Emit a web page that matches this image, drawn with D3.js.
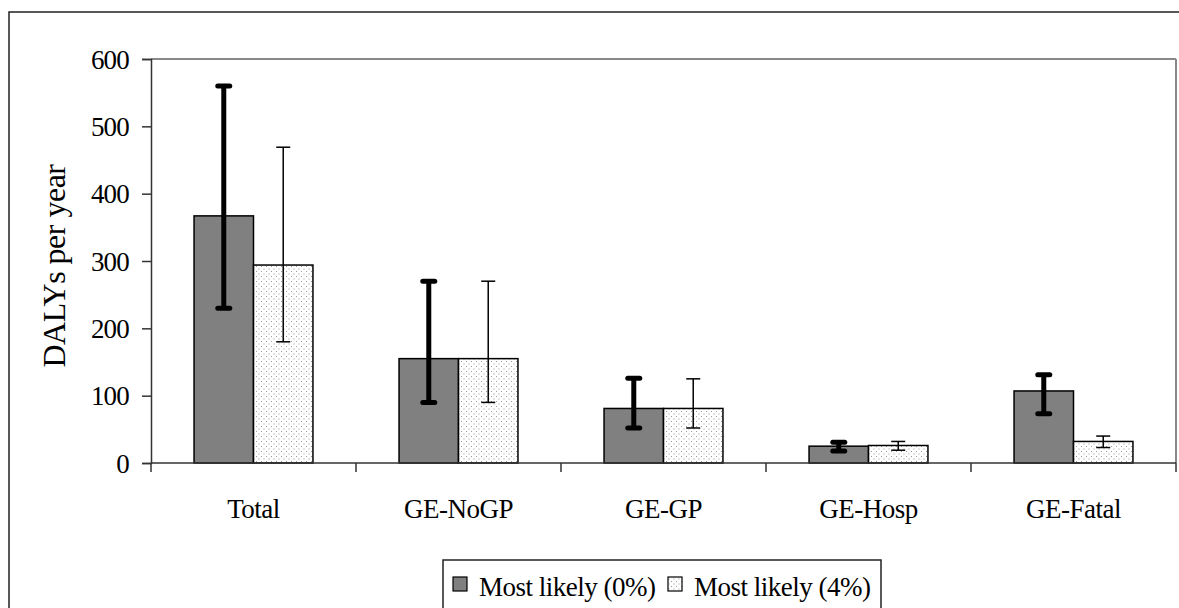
<!DOCTYPE html>
<html>
<head>
<meta charset="utf-8">
<script src="https://cdn.jsdelivr.net/npm/d3@7"></script>
<style>
  body { margin: 0; background: #fff; }
  svg { display: block; }
  text { font-family: "Liberation Serif", "Times New Roman", serif; fill: #000; }
</style>
</head>
<body>
<div id="chart"></div>
<script>
// data
var categories = ["Total", "GE-NoGP", "GE-GP", "GE-Hosp", "GE-Fatal"];
var seriesNames = ["Most likely (0%)", "Most likely (4%)"];
var values0 = [367, 155, 81, 25, 107];
var low0 = [230, 90, 52, 18, 73];
var high0 = [560, 270, 126, 31, 131];
var values4 = [294, 155, 81, 26, 32];
var low4 = [180, 90, 52, 19, 23];
var high4 = [469, 270, 125, 32, 40];
var yTicks = [0, 100, 200, 300, 400, 500, 600];

var W = 1179, H = 608;
var mLeft = 151, mRight = 1176, mTop = 59, mBottom = 463;

var svg = d3.select("#chart").append("svg")
    .attr("width", W)
    .attr("height", H);

// dotted fill for the 4% bars
var defs = svg.append("defs");
var pat = defs.append("pattern")
    .attr("id", "dots")
    .attr("patternUnits", "userSpaceOnUse")
    .attr("width", 5)
    .attr("height", 5);
pat.append("rect").attr("width", 5).attr("height", 5).attr("fill", "#fff");
pat.append("rect").attr("x", 1).attr("y", 1).attr("width", 1).attr("height", 1).attr("fill", "#999");
pat.append("rect").attr("x", 3.5).attr("y", 3.5).attr("width", 1).attr("height", 1).attr("fill", "#999");

// outer chart border (cut off at right/bottom)
svg.append("rect")
    .attr("x", 9).attr("y", 12)
    .attr("width", 1300).attr("height", 800)
    .attr("fill", "none")
    .attr("stroke", "#222")
    .attr("stroke-width", 1.5);

var x = d3.scaleBand().domain(categories).range([mLeft, mRight]);
var y = d3.scaleLinear().domain([0, 600]).range([mBottom, mTop]);
var bw = x.bandwidth() * 0.29;

// plot area border
svg.append("line").attr("x1", mLeft).attr("x2", mRight).attr("y1", mTop).attr("y2", mTop)
    .attr("stroke", "#888").attr("stroke-width", 2);
svg.append("line").attr("x1", mRight).attr("x2", mRight).attr("y1", mTop).attr("y2", mBottom)
    .attr("stroke", "#888").attr("stroke-width", 2);

var rows = categories.map(function (c, i) {
    return {
        cat: c,
        s: [
            { v: values0[i], lo: low0[i], hi: high0[i], k: 0 },
            { v: values4[i], lo: low4[i], hi: high4[i], k: 1 }
        ]
    };
});

var g = svg.selectAll("g.cat").data(rows).enter().append("g").attr("class", "cat");

function barX(d, k) {
    return x(d.cat) + x.bandwidth() / 2 - bw + k * bw;
}

g.each(function (d) {
    var gg = d3.select(this);
    d.s.forEach(function (s) {
        gg.append("rect")
            .attr("x", barX(d, s.k))
            .attr("y", y(s.v))
            .attr("width", bw)
            .attr("height", y(0) - y(s.v))
            .attr("fill", s.k === 0 ? "#808080" : "url(#dots)")
            .attr("stroke", "#000")
            .attr("stroke-width", 1.5);
    });
});

// axes
var yAxis = d3.axisLeft(y).tickValues(yTicks).tickSize(9).tickPadding(13);
var ya = svg.append("g").attr("transform", "translate(" + mLeft + ",0)").call(yAxis);
ya.select(".domain").attr("stroke", "#333").attr("stroke-width", 1.5);
ya.selectAll(".tick line").attr("stroke", "#333").attr("stroke-width", 1.5);
ya.selectAll(".tick text")
    .style("font-family", "'Liberation Serif', serif")
    .style("font-size", "27px")
    .style("letter-spacing", "-0.8px")
    .attr("dy", "0.34em");

svg.append("line").attr("x1", mLeft).attr("x2", mRight).attr("y1", mBottom).attr("y2", mBottom)
    .attr("stroke", "#333").attr("stroke-width", 1.5);
var bounds = categories.map(function (c) { return x(c); }).concat([mRight]);
svg.selectAll("line.xt").data(bounds).enter().append("line")
    .attr("class", "xt")
    .attr("x1", function (d) { return d; }).attr("x2", function (d) { return d; })
    .attr("y1", mBottom).attr("y2", mBottom + 9)
    .attr("stroke", "#333").attr("stroke-width", 1.5);

svg.selectAll("text.xl").data(categories).enter().append("text")
    .attr("class", "xl")
    .attr("x", function (d) { return x(d) + x.bandwidth() / 2; })
    .attr("y", 518)
    .attr("text-anchor", "middle")
    .style("font-size", "27px")
    .style("letter-spacing", "-0.5px")
    .text(function (d) { return d; });

// error bars
g.each(function (d) {
    var gg = d3.select(this);
    d.s.forEach(function (s) {
        var cx = barX(d, s.k) + bw / 2;
        var thick = s.k === 0;
        var sw = thick ? 5 : 1.5;
        var cw = thick ? 12 : 14;
        var lc = thick ? "round" : "butt";
        gg.append("line")
            .attr("x1", cx).attr("x2", cx)
            .attr("y1", y(s.lo)).attr("y2", y(s.hi))
            .attr("stroke", "#000").attr("stroke-width", sw);
        [s.lo, s.hi].forEach(function (e) {
            gg.append("line")
                .attr("x1", cx - cw / 2).attr("x2", cx + cw / 2)
                .attr("y1", y(e)).attr("y2", y(e))
                .attr("stroke", "#000").attr("stroke-width", sw)
                .attr("stroke-linecap", lc);
        });
    });
});

// y label
svg.append("text")
    .attr("transform", "translate(65,266) rotate(-90)")
    .attr("text-anchor", "middle")
    .style("font-size", "32px")
    .style("letter-spacing", "-0.5px")
    .text("DALYs per year");

// legend
var lg = svg.append("g");
lg.append("rect")
    .attr("x", 443).attr("y", 560)
    .attr("width", 438).attr("height", 80)
    .attr("fill", "#fff").attr("stroke", "#222").attr("stroke-width", 1.5);
var lx = [453, 668];
seriesNames.forEach(function (n, i) {
    lg.append("rect")
        .attr("x", lx[i]).attr("y", 577)
        .attr("width", 14).attr("height", 14)
        .attr("fill", i === 0 ? "#808080" : "url(#dots)")
        .attr("stroke", "#000").attr("stroke-width", 1.2);
    lg.append("text")
        .attr("x", lx[i] + 26).attr("y", 596)
        .style("font-size", "27px")
        .style("letter-spacing", "-0.5px")
        .text(n);
});
</script>
</body>
</html>
